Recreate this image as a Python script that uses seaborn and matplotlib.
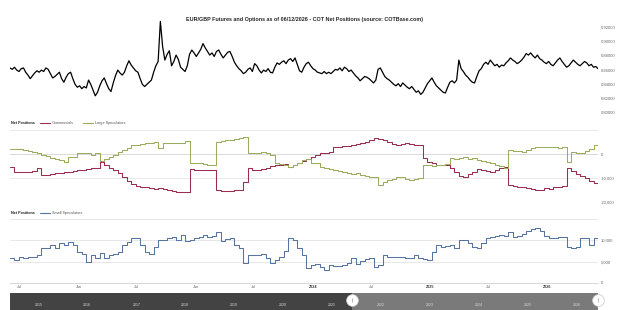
import pandas as pd
import numpy as np
import seaborn as sns
import matplotlib.pyplot as plt

title = "EUR/GBP Futures and Options as of 06/12/2026 - COT Net Positions (source: COTBase.com)"

# weekly EUR/GBP price (from 2021-06-01)
price = [
    0.863, 0.861, 0.864, 0.860, 0.858, 0.862, 0.863, 0.857, 0.853, 0.848,
    0.852, 0.856, 0.859, 0.857, 0.860, 0.858, 0.863, 0.861, 0.855, 0.849,
    0.851, 0.854, 0.857, 0.848, 0.843, 0.850, 0.855, 0.857, 0.848, 0.840,
    0.836, 0.838, 0.834, 0.837, 0.835, 0.846, 0.840, 0.832, 0.824, 0.829,
    0.838, 0.845, 0.849, 0.841, 0.834, 0.830, 0.842, 0.852, 0.860, 0.856,
    0.853, 0.857, 0.866, 0.873, 0.867, 0.863, 0.859, 0.857, 0.848, 0.840,
    0.837, 0.840, 0.843, 0.846, 0.857, 0.866, 0.872, 0.928, 0.893, 0.874,
    0.882, 0.887, 0.866, 0.872, 0.881, 0.875, 0.864, 0.861, 0.858, 0.866,
    0.882, 0.888, 0.884, 0.879, 0.884, 0.889, 0.897, 0.891, 0.886, 0.881,
    0.884, 0.879, 0.886, 0.888, 0.882, 0.877, 0.881, 0.885, 0.886, 0.879,
    0.871, 0.866, 0.862, 0.859, 0.855, 0.857, 0.861, 0.863, 0.858, 0.869,
    0.866, 0.860, 0.856, 0.860, 0.858, 0.862, 0.857, 0.856, 0.864, 0.870,
    0.868, 0.871, 0.873, 0.869, 0.874, 0.876, 0.872, 0.877, 0.868, 0.859,
    0.857, 0.864, 0.869, 0.871, 0.866, 0.862, 0.860, 0.857, 0.856, 0.855,
    0.858, 0.855, 0.857, 0.855, 0.858, 0.861, 0.860, 0.863, 0.859, 0.864,
    0.862, 0.858, 0.860, 0.856, 0.852, 0.849, 0.845, 0.848, 0.851, 0.850,
    0.848, 0.845, 0.842, 0.846, 0.861, 0.863, 0.857, 0.851, 0.848, 0.846,
    0.843, 0.840, 0.838, 0.841, 0.837, 0.842, 0.839, 0.836, 0.834, 0.837,
    0.833, 0.829, 0.831, 0.826, 0.829, 0.835, 0.841, 0.845, 0.849, 0.843,
    0.838, 0.835, 0.832, 0.829, 0.828, 0.836, 0.843, 0.845, 0.842, 0.846,
    0.874, 0.862, 0.858, 0.853, 0.850, 0.846, 0.843, 0.842, 0.851, 0.859,
    0.862, 0.868, 0.871, 0.868, 0.874, 0.870, 0.866, 0.868, 0.864, 0.867,
    0.866, 0.870, 0.873, 0.877, 0.874, 0.872, 0.869, 0.871, 0.874, 0.878,
    0.883, 0.881, 0.884, 0.880, 0.877, 0.881, 0.876, 0.874, 0.871, 0.869,
    0.872, 0.868, 0.866, 0.870, 0.874, 0.877, 0.872, 0.868, 0.864, 0.866,
    0.870, 0.874, 0.871, 0.868, 0.866, 0.869, 0.872, 0.870, 0.866, 0.868,
    0.864, 0.865, 0.862,
]

# bi-weekly COT net positions (contracts), from 2021-06-01
commercials = [
    -5400, -7500, -7500, -7500, -7500, -7100, -5800, -8750, -8750, -8300,
    -7900, -7900, -7500, -7500, -7100, -6700, -6700, -6250, -5800, -5800,
    -3300, -4600, -5800, -6700, -7900, -9600, -11200, -12500, -13300, -13750,
    -13750, -14200, -14600, -14200, -14600, -15000, -15400, -15800, -15800, -15800,
    -6300, -6700, -6700, -6700, -6700, -6700, -15000, -15400, -15400, -15400,
    -15000, -15000, -11700, -5800, -6700, -6700, -6250, -5800, -5000, -4600,
    -4600, -4200, -5400, -4600, -3750, -2900, -2100, -1250, -400, 400,
    400, 800, 2900, 2900, 3300, 3300, 3750, 4200, 4600, 5000,
    5800, 6700, 6300, 5800, 5000, 4200, 3750, 4200, 4600, 4200,
    3750, 3750, -1700, -3300, -3750, -4600, -4600, -4600, -5800, -7500,
    -9200, -9600, -8300, -7500, -6300, -6700, -7100, -7500, -6700, -5800,
    -5400, -12900, -13300, -13750, -13750, -14200, -14600, -15000, -15000, -14200,
    -14600, -13750, -13750, -13300, -5800, -7100, -8300, -9200, -10000, -11200,
    -12100, -11700,
]
large_specs = [
    2100, 2100, 2100, 1700, 1250, 800, 400, -400, -1000, -1700,
    -2100, -2500, -3300, -1250, -1250, 400, 600, 400, -400, 400,
    -3000, -2100, -1250, -400, 800, 1700, 2500, 3750, 3750, 4200,
    4600, 4600, 5000, 2500, 4600, 4600, 4600, 4600, 4600, 5400,
    -3750, -3750, -3900, -4200, -4400, -4600, 5000, 5400, 5800, 5800,
    6300, 6700, 7100, 400, 600, 400, 800, 400, -400, -3750,
    -4200, -4600, -5400, -4600, -3750, -2500, -2100, -3750, -3900, -5400,
    -5800, -6250, -6700, -7000, -7500, -7900, -8300, -7900, -8750, -9200,
    -9600, -9600, -13000, -11500, -10800, -10400, -9600, -9600, -10400, -10800,
    -10400, -10000, -4600, -4600, -4800, -4600, -4600, -4200, -1700, -2100,
    -1700, -1250, -2100, -1700, -2500, -2900, -3300, -3750, -4600, -5000,
    -5800, 1700, 1250, 1250, 800, 1700, 2500, 2900, 2900, 2900,
    2900, 2900, 2500, 2900, -3300, 800, 400, 400, 1250, 2100,
    3750, 3750,
]
small_specs = [
    5800, 5350, 6000, 5800, 6000, 6000, 6500, 8100, 8100, 8800,
    8100, 9300, 8800, 9500, 9000, 7200, 6800, 4900, 6500, 5800,
    7000, 5800, 6500, 6800, 7200, 8800, 9500, 10500, 10500, 8800,
    7200, 6700, 8500, 10000, 10000, 10500, 10700, 10000, 11200, 9800,
    10000, 10500, 10700, 11200, 10700, 11000, 11900, 9800, 10300, 10500,
    9000, 8100, 4650, 6500, 6500, 6500, 6700, 5800, 4650, 5500,
    6000, 7500, 10500, 10000, 8100, 6500, 3500, 4200, 4400, 3700,
    3000, 4200, 4000, 3900, 4200, 4650, 5800, 4400, 5200, 5600,
    5800, 3700, 4200, 6500, 6200, 6000, 6000, 6200, 5800, 5800,
    6500, 5800, 5600, 5350, 7200, 8800, 8400, 8600, 8800, 8100,
    10000, 10000, 9300, 8400, 8100, 9300, 10500, 10700, 10900, 11200,
    11000, 12000, 10700, 10900, 11600, 12300, 12600, 13000, 12300, 10900,
    10500, 10500, 10700, 10700, 8400, 8100, 8400, 10500, 10500, 9000,
    10500, 8100,
]

price_ticks = [0.80, 0.82, 0.84, 0.86, 0.88, 0.90, 0.92]
cot_ticks = [-20000, -10000, 0, 10000]
cot_labels = ["-20,000", "-10,000", "0", ""]
small_ticks = [0, 5000, 10000, 15000]
small_labels = ["0", "5,000", "10,000", ""]
x_tick_dates = ["2021-07-01", "2022-01-01", "2022-07-01", "2023-01-01", "2023-07-01",
                "2024-01-01", "2024-07-01", "2025-01-01", "2025-07-01", "2026-01-01"]
x_tick_labels = ["Jul", "Jan", "Jul", "Jan", "Jul", "2024", "Jul", "2025", "Jul", "2026"]
nav_years = list(range(2015, 2027))

start, end = pd.Timestamp("2021-06-01"), pd.Timestamp("2026-06-09")
nav_start = pd.Timestamp("2014-06-03")
weeks = pd.date_range(start, periods=len(price), freq="7D")
biweeks = pd.date_range(start, periods=len(commercials), freq="14D")

RED, GREEN, BLUE = "#9b2d4f", "#9aad5c", "#56749f"
LABEL = "#666666"

sns.set_style("white")
plt.rcParams['font.family'] = ['Liberation Sans', 'DejaVu Sans']

fig = plt.figure(figsize=(6.25, 3.1), dpi=100)


def box(top, bottom):
    # pixel rows -> figure fractions
    return [10 / 625, 1 - bottom / 310, 588 / 625, (bottom - top) / 310]


ax_p = fig.add_axes(box(20, 113))
ax_c = fig.add_axes(box(130, 202))
ax_s = fig.add_axes(box(219, 283))
ax_n = fig.add_axes(box(293, 310))

# price panel
sns.lineplot(x=weeks, y=price, color="black", lw=0.9, ax=ax_p)
ax_p.set_ylim(0.80, 0.93)
ax_p.set_yticks(price_ticks)
ax_p.set_yticklabels([f"{t:.5f}" for t in price_ticks])

# commercials / large speculators
cot = pd.concat([
    pd.DataFrame({"date": biweeks, "value": commercials, "series": "Commercials"}),
    pd.DataFrame({"date": biweeks, "value": large_specs, "series": "Large Speculators"}),
])
sns.lineplot(data=cot, x="date", y="value", hue="series", palette=[RED, GREEN],
             drawstyle="steps-post", lw=0.75, ax=ax_c)
ax_c.set_ylim(-20000, 10000)
ax_c.set_yticks(cot_ticks)
ax_c.set_yticklabels(cot_labels)
ax_c.axhline(0, color="#9a9a9a", lw=0.6, zorder=0)

# small speculators
small = pd.DataFrame({"date": biweeks, "value": small_specs, "series": "Small Speculators"})
sns.lineplot(data=small, x="date", y="value", hue="series", palette=[BLUE],
             drawstyle="steps-post", lw=0.75, ax=ax_s)
ax_s.set_ylim(0, 15000)
ax_s.set_yticks(small_ticks)
ax_s.set_yticklabels(small_labels)

for ax in (ax_p, ax_c, ax_s):
    ax.set_xlim(start, end)
    ax.set_xlabel("")
    ax.set_ylabel("")
    ax.yaxis.tick_right()
    ax.tick_params(axis="y", length=0, pad=2, labelsize=3, labelcolor=LABEL)
    for s in ax.spines.values():
        s.set_visible(False)
    ax.patch.set_alpha(0)

for ax in (ax_c, ax_s):
    ax.grid(axis="y", color="#e4e4e4", lw=0.6)
    ax.set_axisbelow(True)

ax_p.set_xticks([])
ax_c.set_xticks([])
ax_s.spines["bottom"].set_visible(True)
ax_s.spines["bottom"].set_color("#d0d0d0")
ax_s.spines["bottom"].set_linewidth(0.6)
ax_s.set_xticks(pd.to_datetime(x_tick_dates))
ax_s.set_xticklabels(x_tick_labels)
ax_s.tick_params(axis="x", length=0, pad=1.5, labelsize=2.7, labelcolor="#555555")
for lab in ax_s.get_xticklabels():
    if lab.get_text().isdigit():
        lab.set_fontweight("bold")
        lab.set_color("#333333")

# legends
sns.move_legend(ax_c, "center left", bbox_to_anchor=(40 / 625, 1 - 123 / 310),
                bbox_transform=fig.transFigure, ncol=2, frameon=False, title=None,
                fontsize=2.7, handlelength=2.6, handletextpad=0.6, columnspacing=2.4,
                borderpad=0, borderaxespad=0, labelcolor="#555555")
sns.move_legend(ax_s, "center left", bbox_to_anchor=(40 / 625, 1 - 213 / 310),
                bbox_transform=fig.transFigure, ncol=1, frameon=False, title=None,
                fontsize=2.7, handlelength=2.6, handletextpad=0.6,
                borderpad=0, borderaxespad=0, labelcolor="#555555")
for ax, cols in ((ax_c, [RED, GREEN]), (ax_s, [BLUE])):
    for line, c in zip(ax.get_legend().get_lines(), cols):
        line.set_color(c)
        line.set_linewidth(0.8)
for y in (123, 213):
    fig.text(11 / 625, 1 - y / 310, "Net Positions", fontsize=2.7, fontweight="bold",
             va="center", color="#222222")

fig.text(304 / 625, 1 - 19.5 / 310, title, ha="center", va="center", fontsize=3.9,
         fontweight="bold", family=["Liberation Sans Narrow", "Liberation Sans"])

# navigator
ax_n.set_xlim(nav_start, end)
ax_n.set_ylim(0, 1)
ax_n.axvspan(nav_start, start, color="#434343", lw=0)
ax_n.axvspan(start, end, color="#7a7a7a", lw=0)
for yr in nav_years:
    ax_n.text(pd.Timestamp(f"{yr}-01-01"), 0.3, str(yr), ha="center", va="center",
              fontsize=2.6, color="#dddddd")
ax_n.plot([start, end], [0.6, 0.6], "o", ms=8.5, mfc="white", mec="#c8c8c8",
          mew=0.5, clip_on=False, zorder=5)
ax_n.plot([start, end], [0.6, 0.6], "|", ms=3, color="#999999", mew=0.5,
          clip_on=False, zorder=6)
ax_n.set_xticks([])
ax_n.set_yticks([])
for s in ax_n.spines.values():
    s.set_visible(False)

fig.savefig("out.png", dpi=100)
